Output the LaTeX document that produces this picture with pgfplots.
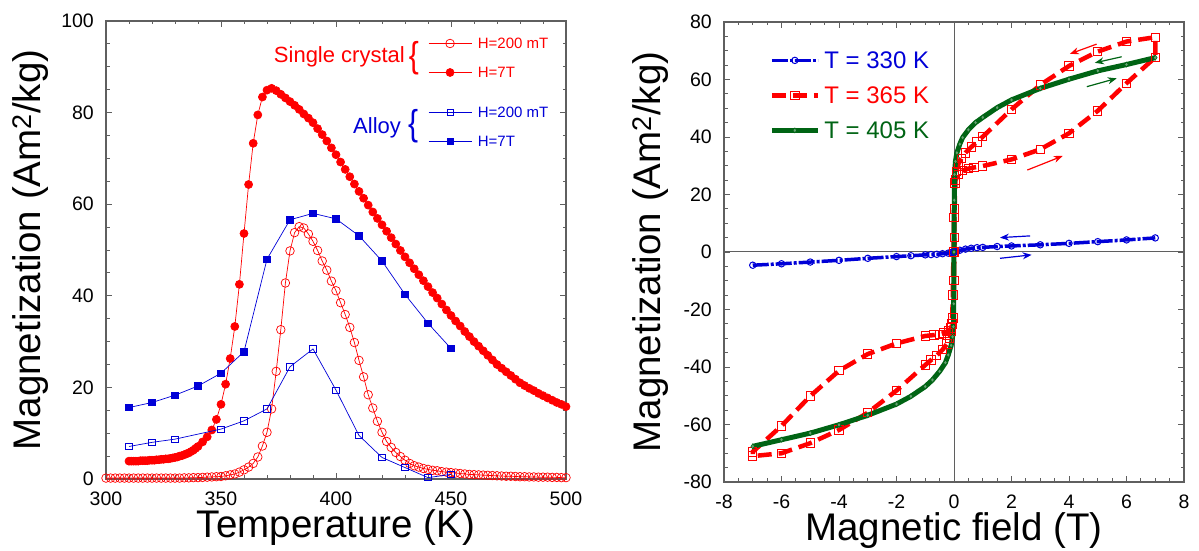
\documentclass[border=0pt]{standalone}
\usepackage{fontspec}
\setmainfont{Liberation Sans}
\usepackage{pgfplots}
\pgfplotsset{compat=1.18}
\usetikzlibrary{arrows.meta}
\definecolor{myred}{RGB}{255,0,0}
\definecolor{myblue}{RGB}{0,0,215}
\definecolor{mygreen}{RGB}{0,100,20}
\definecolor{axgray}{RGB}{95,95,95}
\pgfplotsset{
  mybase/.style={
    scale only axis, width=460pt,
    axis line style={axgray, line width=1.3pt},
    tick style={axgray, line width=0.9pt},
    tick align=inside,
    major tick length=6pt, minor tick length=3.5pt,
    tick label style={font=\fontsize{19.5}{20}\selectfont},
    /pgf/number format/assume math mode=true,
    xticklabel style={inner sep=0pt, anchor=north, yshift=-12.5pt},
    yticklabel style={inner sep=0pt, anchor=east, xshift=-12pt},
    every axis x label/.style={at={(axis description cs:0.5,-0.128)}, anchor=base, font=\fontsize{38.5}{40}\selectfont},
    legend style={draw=none, fill=none, inner sep=0pt},
    legend cell align=left,
  }
}
\begin{document}
\begin{tikzpicture}
\path[use as bounding box] (0,0) rectangle (1199pt,551pt);
% ---------------- left panel ----------------
\begin{axis}[mybase,
  at={(106pt,72pt)}, anchor=south west, height=458pt,
  xmin=300, xmax=500, ymin=0, ymax=100,
  xtick={300,350,...,500}, ytick={0,20,...,100},
  minor x tick num=4, minor y tick num=3,
  xlabel={Temperature (K)},
  ylabel={Magnetization (Am\textsuperscript{2}/kg)},
  every axis y label/.style={at={(axis description cs:-0.163,0.5)}, rotate=90, anchor=center, font=\fontsize{38.5}{40}\selectfont},
  legend image code/.code={\draw[mark repeat=2,mark phase=2,#1] plot coordinates {(0pt,0pt) (21.5pt,0pt) (43pt,0pt)};},
  legend style={at={(axis cs:440,96.3)}, anchor=north west, font=\fontsize{15}{16}\selectfont,
     nodes={inner sep=0pt, text height=10.7pt, text depth=0pt}, row sep=18.3pt, column sep=6pt},
]
% single crystal H=200 mT
\addplot[myred, line width=0.7pt, mark=o, mark size=4.3pt, mark options={line width=0.7pt}] coordinates {
(300,0.2)(302,0.2)(304,0.2)(306,0.2)(308,0.2)(310,0.2)(312,0.2)(314,0.2)(316,0.2)(318,0.2)
(320,0.2)(322,0.2)(324,0.2)(326,0.2)(328,0.2)(330,0.2)(332,0.2)(334,0.25)(336,0.25)(338,0.3)
(340,0.3)(342,0.35)(344,0.4)(346,0.45)(348,0.5)(350,0.55)(352,0.7)(354,0.9)(356,1.1)(358,1.5)
(360,2.0)(362,2.6)(364,3.4)(366,4.8)(368,7.2)(370,10.2)(372,15.3)(374,23.5)(376,32.6)(378,42.8)
(380,49.8)(382,53.8)(384,55.1)(386,54.8)(388,53.5)(390,51.9)(392,49.9)(394,47.6)(396,45.6)(398,43.2)
(400,41.1)(402,38.5)(404,35.9)(406,33.1)(408,29.8)(410,25.9)(412,22.3)(414,18.4)(416,15.5)(418,12.6)
(420,10.2)(422,8.2)(424,6.9)(426,5.8)(428,4.9)(430,4.1)(432,3.4)(434,2.9)(436,2.6)(438,2.3)
(440,2.1)(442,1.9)(444,1.8)(446,1.6)(448,1.5)(450,1.4)(452,1.3)(454,1.2)(456,1.1)(458,1.0)
(460,0.95)(462,0.9)(464,0.85)(466,0.8)(468,0.75)(470,0.7)(472,0.65)(474,0.6)(476,0.6)(478,0.55)
(480,0.5)(482,0.5)(484,0.45)(486,0.45)(488,0.4)(490,0.4)(492,0.4)(494,0.35)(496,0.35)(498,0.3)(500,0.3)
};
\addlegendentry[text=myred]{H=200 mT}
% single crystal H=7T
\addplot[myred, line width=0.7pt, mark=*, mark size=4pt] coordinates {
(310,3.9)(311,3.9)(312,3.9)(313,3.9)(314,3.9)(315,4.0)(316,4.0)(317,4.0)(318,4.0)(319,4.1)
(320,4.1)(321,4.1)(322,4.2)(323,4.2)(324,4.3)(325,4.3)(326,4.4)(327,4.4)(328,4.5)(329,4.6)
(330,4.7)(331,4.8)(332,5.0)(333,5.1)(334,5.3)(335,5.5)(336,5.7)(337,6.0)(338,6.3)(339,6.7)
(340,7.1)(342,8.1)(344,9.2)(346,10.7)(348,13.0)(350,16.3)(352,20.7)(354,26.3)(356,33.3)(358,42.5)
(360,53.6)(362,64.3)(364,73.3)(366,79.5)(368,83.4)(370,84.9)(372,85.3)(374,84.8)(376,84.0)(378,83.2)
(380,82.4)(382,81.6)(384,80.7)(386,79.7)(388,78.8)(390,77.8)(392,76.5)(394,75.2)(396,73.8)(398,72.3)
(400,70.8)(402,69.2)(404,67.6)(406,66.0)(408,64.4)(410,62.8)(412,61.3)(414,59.8)(416,58.3)(418,56.9)
(420,55.5)(422,54.1)(424,52.7)(426,51.3)(428,49.9)(430,48.5)(432,47.2)(434,45.9)(436,44.6)(438,43.3)
(440,42.0)(442,40.7)(444,39.5)(446,38.2)(448,36.9)(450,35.7)(452,34.5)(454,33.4)(456,32.2)(458,31.1)
(460,30.0)(462,29.0)(464,28.0)(466,27.0)(468,26.0)(470,25.0)(472,24.2)(474,23.4)(476,22.6)(478,21.8)
(480,21.0)(482,20.4)(484,19.8)(486,19.3)(488,18.7)(490,18.2)(492,17.7)(494,17.2)(496,16.7)(498,16.3)(500,15.8)
};
\addlegendentry[text=myred]{H=7T}
\node[anchor=east, text=myred, font=\fontsize{22}{22}\selectfont, inner sep=0pt] at (axis cs:430,92.1) {Single crystal};
\node[text=myred, font=\fontsize{30}{30}\selectfont, yscale=1.2, inner sep=0pt] at (axis cs:433.9,91.9) {\{};
\node[anchor=east, text=myblue, font=\fontsize{22}{22}\selectfont, inner sep=0pt] at (axis cs:428.3,76.6) {Alloy};
\node[text=myblue, font=\fontsize{30}{30}\selectfont, yscale=1.2, inner sep=0pt] at (axis cs:433.5,77.1) {\{};
\end{axis}
% alloy overlay
\begin{axis}[mybase,
  at={(106pt,72pt)}, anchor=south west, height=458pt,
  xmin=300, xmax=500, ymin=0, ymax=100, hide axis,
  legend image code/.code={\draw[mark repeat=2,mark phase=2,#1] plot coordinates {(0pt,0pt) (21.5pt,0pt) (43pt,0pt)};},
  legend style={at={(axis cs:440,81.2)}, anchor=north west, font=\fontsize{15}{16}\selectfont,
     nodes={inner sep=0pt, text height=10.7pt, text depth=0pt}, row sep=18.3pt, column sep=6pt},
]
\addplot[myblue, line width=0.7pt, mark=square, mark size=3.2pt, mark options={line width=0.7pt}] coordinates {
(310,7.1)(320,8.0)(330,8.7)(350,10.9)(360,12.7)(370,15.3)(380,24.5)(390,28.4)(400,19.4)(410,9.5)(420,4.7)(430,2.5)(440,0.3)(450,1.0)
};
\addlegendentry[text=myblue]{H=200 mT}
\addplot[myblue, line width=0.7pt, mark=square*, mark size=3.2pt] coordinates {
(310,15.6)(320,16.7)(330,18.3)(340,20.3)(350,23.1)(360,27.8)(370,48.0)(380,56.6)(390,58.0)(400,56.8)(410,53.1)(420,47.6)(430,40.3)(440,34.0)(450,28.5)
};
\addlegendentry[text=myblue]{H=7T}
\end{axis}
% ---------------- right panel ----------------
\begin{axis}[mybase,
  at={(724pt,69pt)}, anchor=south west, height=460pt,
  xmin=-8, xmax=8, ymin=-80, ymax=80,
  xtick={-8,-6,...,8}, ytick={-80,-60,...,80},
  minor x tick num=3, minor y tick num=3,
  xlabel={Magnetic field (T)},
  ylabel={Magnetization (Am\textsuperscript{2}/kg)},
  every axis y label/.style={at={(axis description cs:-0.159,0.5)}, rotate=90, anchor=center, font=\fontsize{38.5}{40}\selectfont},
  legend image code/.code={\draw[mark repeat=2,mark phase=2,#1] plot coordinates {(0pt,0pt) (23pt,0pt) (46pt,0pt)};},
  legend style={at={(axis cs:-6.43,69.7)}, anchor=north west, font=\fontsize{24}{26}\selectfont,
     nodes={inner sep=0pt, text height=17.2pt, text depth=0pt}, row sep=17.8pt, column sep=4pt},
]
\draw[axgray, line width=1pt] (axis cs:0,-80) -- (axis cs:0,80);
\draw[axgray, line width=1pt] (axis cs:-8,0) -- (axis cs:8,0);
\addplot[myblue, line width=3.5pt, dash pattern=on 16pt off 2pt on 3pt off 2pt, mark=o, mark size=3.2pt, mark options={solid, line width=1pt, fill=white}] coordinates {
(-7,-4.6)(-6,-4.1)(-5,-3.5)(-4,-2.9)(-3,-2.2)(-2,-1.6)(-1.5,-1.3)(-1,-1.0)(-0.8,-0.9)(-0.6,-0.8)(-0.4,-0.6)(-0.2,-0.4)(-0.1,-0.2)
(0,0)(0.1,0.3)(0.2,0.6)(0.4,1.0)(0.6,1.3)(0.8,1.5)(1,1.6)(1.5,1.9)(2,2.1)(3,2.5)(4,3.0)(5,3.6)(6,4.2)(7,4.9)
};
\addlegendentry[text=myblue]{T = 330 K}
\addplot[myred, line width=4.5pt, dash pattern=on 14pt off 7pt, mark=square, mark size=4.2pt, mark options={solid, line width=1pt, fill=white}] coordinates {
(0,0)(0.02,15)(0.05,25)(0.15,27)(0.3,28.3)(0.5,29)(0.7,29.4)(1,29.9)(2,32.2)(3,35.7)(4,41.3)(5,49.1)(6,58.7)(7,67.7)
(7,74.7)(6,73.2)(5,69.7)(4,64.7)(3,58.1)(2,49.6)(1,40.1)(0.8,38.3)(0.6,36.5)(0.4,34.5)(0.25,32.5)(0.15,30.5)(0.08,28)(0.03,24)
(0,12)(-0.02,0)(-0.04,-15)(-0.07,-25)(-0.1,-26.5)(-0.2,-27.5)(-0.35,-28.2)(-0.5,-28.6)(-0.7,-28.9)(-1,-29.2)(-2,-31.8)(-3,-35.5)
(-4,-41.3)(-5,-50.1)(-6,-60.5)(-7,-69.5)(-7,-71)(-6,-70)(-5,-66.5)(-4,-61.9)(-3,-55.9)(-2,-48.2)(-1,-39.3)(-0.8,-37.6)(-0.6,-36)
(-0.4,-34)(-0.25,-32)(-0.15,-30)(-0.08,-27.5)(-0.03,-23)(0,-10)(0.02,5)
};
\addlegendentry[text=myred]{T = 365 K}
\addplot[mygreen, line width=5pt, mark=diamond*, mark size=2.5pt, mark options={solid, line width=0.6pt, fill=mygreen!60!white}] coordinates {
(-7,-67.6)(-6,-65.3)(-5,-63.0)(-4,-60.1)(-3,-56.8)(-2,-52.9)(-1.5,-50.2)(-1,-46.8)(-0.75,-44.5)(-0.5,-41.5)(-0.3,-38.5)(-0.2,-35.8)
(-0.1,-32.5)(-0.05,-29.5)(-0.02,-26)(-0.01,-18)(0,0)(0.01,18)(0.02,27)(0.05,31.5)(0.1,34.5)(0.2,37.5)(0.3,39.8)(0.5,42.5)
(0.75,45)(1,46.8)(1.5,50.2)(2,52.9)(3,56.9)(4,60.1)(5,63.0)(6,65.2)(7,67.6)
};
\addlegendentry[text=mygreen]{T = 405 K}
% field-direction arrows
\draw[myblue, line width=1.2pt, -{Stealth[length=9pt,width=7pt]}] (axis cs:2.65,5.6) -- (axis cs:1.6,5.0);
\draw[myblue, line width=1.2pt, -{Stealth[length=9pt,width=7pt]}] (axis cs:1.6,-2.2) -- (axis cs:2.7,-1.0);
\draw[mygreen, line width=1.2pt, -{Stealth[length=9pt,width=7pt]}] (axis cs:5.83,67.9) -- (axis cs:4.9,65.8);
\draw[mygreen, line width=1.2pt, -{Stealth[length=9pt,width=7pt]}] (axis cs:4.62,57.5) -- (axis cs:5.66,60.4);
\draw[myred, line width=1.2pt, -{Stealth[length=9pt,width=7pt]}] (axis cs:4.96,72.3) -- (axis cs:4.03,68.9);
\draw[myred, line width=1.2pt, -{Stealth[length=9pt,width=7pt]}] (axis cs:2.55,28.5) -- (axis cs:3.78,33.4);
\end{axis}
\end{tikzpicture}
\end{document}
